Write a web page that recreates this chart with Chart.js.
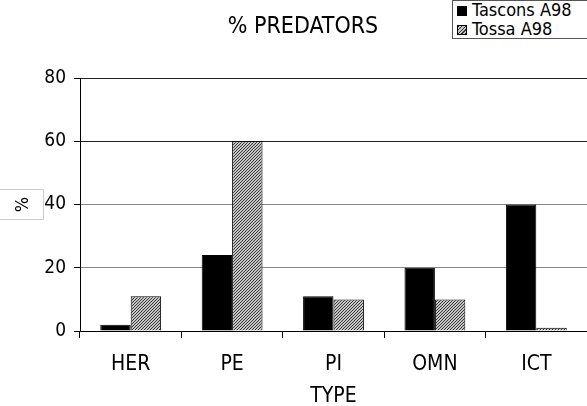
<!DOCTYPE html>
<html>
<head>
<meta charset="utf-8">
<script src="https://cdn.jsdelivr.net/npm/chart.js@4"></script>
<style>
  body { margin: 0; background: #fff; }
  #wrap { position: relative; width: 587px; height: 406px; }
  #legend {
    position: absolute; left: 452px; top: 0; width: 134px; height: 37px;
    border: 1px solid #555; background: #fff;
    font: 18px 'DejaVu Sans Condensed', 'Liberation Sans Narrow', 'DejaVu Sans', sans-serif;
    color: #000;
  }
  #legend .row { position: absolute; left: 4px; height: 18px; line-height: 18px; white-space: nowrap; }
  #legend .sw { display: inline-block; width: 10px; height: 10px; margin-right: 5px; border: 1px solid #000; box-sizing: border-box; vertical-align: 0; }
</style>
</head>
<body>
<div id="wrap">
  <canvas id="chart" width="587" height="406"></canvas>
  <div id="legend"></div>
</div>
<script>
const categories = ['HER', 'PE', 'PI', 'OMN', 'ICT'];
const seriesNames = ['Tascons A98', 'Tossa A98'];
const tasconsValues = [2, 24, 11, 20, 40];
const tossaValues = [11, 60, 10, 10, 1];
const chartTitle = '% PREDATORS';

const FONT = "'DejaVu Sans Condensed', 'Liberation Sans Narrow', 'DejaVu Sans', sans-serif";

// diagonal hatch for the second series
function makeHatch() {
  const c = document.createElement('canvas');
  c.width = 3; c.height = 3;
  const g = c.getContext('2d');
  g.fillStyle = '#c4c4c4';
  g.fillRect(0, 0, 3, 3);
  g.fillStyle = '#3a3a3a';
  for (let i = 0; i < 3; i++) g.fillRect(2 - i, i, 1, 1);
  return g.createPattern(c, 'repeat');
}
const hatch = makeHatch();

// legend (html box in the corner)
const legend = document.getElementById('legend');
const swatchBg = ['#000', 'repeating-linear-gradient(135deg, #333 0 1px, #c4c4c4 1px 2.5px)'];
seriesNames.forEach((name, i) => {
  const row = document.createElement('div');
  row.className = 'row';
  row.style.top = (0 + i * 19) + 'px';
  row.innerHTML = '<span class="sw" style="background:' + swatchBg[i] + '"></span>' + name;
  legend.appendChild(row);
});

// title (a bit right of the canvas centre) + box around the y title
const extras = {
  id: 'extras',
  afterDraw(chart) {
    const ctx = chart.ctx;
    ctx.save();
    ctx.fillStyle = '#000';
    ctx.font = '23px ' + FONT;
    ctx.textAlign = 'center';
    ctx.textBaseline = 'middle';
    ctx.fillText(chartTitle, 303, 27);
    ctx.strokeStyle = '#ccc';
    ctx.lineWidth = 1;
    ctx.strokeRect(-1, 189.5, 44.5, 30);
    ctx.restore();
  }
};

new Chart(document.getElementById('chart'), {
  type: 'bar',
  data: {
    labels: categories,
    datasets: [
      {
        label: seriesNames[0],
        data: tasconsValues,
        backgroundColor: '#000',
        borderColor: '#000',
        borderWidth: 1,
      },
      {
        label: seriesNames[1],
        data: tossaValues,
        backgroundColor: hatch,
        borderColor: '#000',
        borderWidth: 1,
      },
    ],
  },
  options: {
    responsive: false,
    animation: false,
    layout: { padding: { top: 78, left: 0, right: 0, bottom: 0 } },
    datasets: {
      bar: { categoryPercentage: 0.6, barPercentage: 1.0 },
    },
    plugins: {
      legend: { display: false },
      tooltip: { enabled: false },
      title: { display: false },
    },
    scales: {
      x: {
        afterFit: s => { s.height = 75; },
        grid: {
          offset: true,
          drawOnChartArea: false,
          drawTicks: true,
          tickLength: 7,
          tickColor: '#000',
        },
        border: { color: '#000', width: 1 },
        ticks: {
          color: '#000',
          padding: 14,
          font: { family: FONT, size: 21 },
        },
        title: {
          display: true,
          text: 'TYPE',
          color: '#000',
          font: { family: FONT, size: 21, lineHeight: 1.0 },
          padding: { top: 0, bottom: -1 },
        },
      },
      y: {
        min: 0,
        max: 80,
        afterFit: s => { s.width = 80; },
        grid: {
          color: ctx => (ctx.tick && ctx.tick.value >= 60 ? '#222' : '#888'),
          tickLength: 6,
          tickColor: '#000',
        },
        border: { color: '#000', width: 1 },
        ticks: {
          stepSize: 20,
          color: '#000',
          padding: 8,
          font: { family: FONT, size: 19 },
        },
        title: {
          display: true,
          text: '%',
          color: '#000',
          font: { family: FONT, size: 18 },
          padding: { top: 13, bottom: 0 },
        },
      },
    },
  },
  plugins: [extras],
});
</script>
</body>
</html>
